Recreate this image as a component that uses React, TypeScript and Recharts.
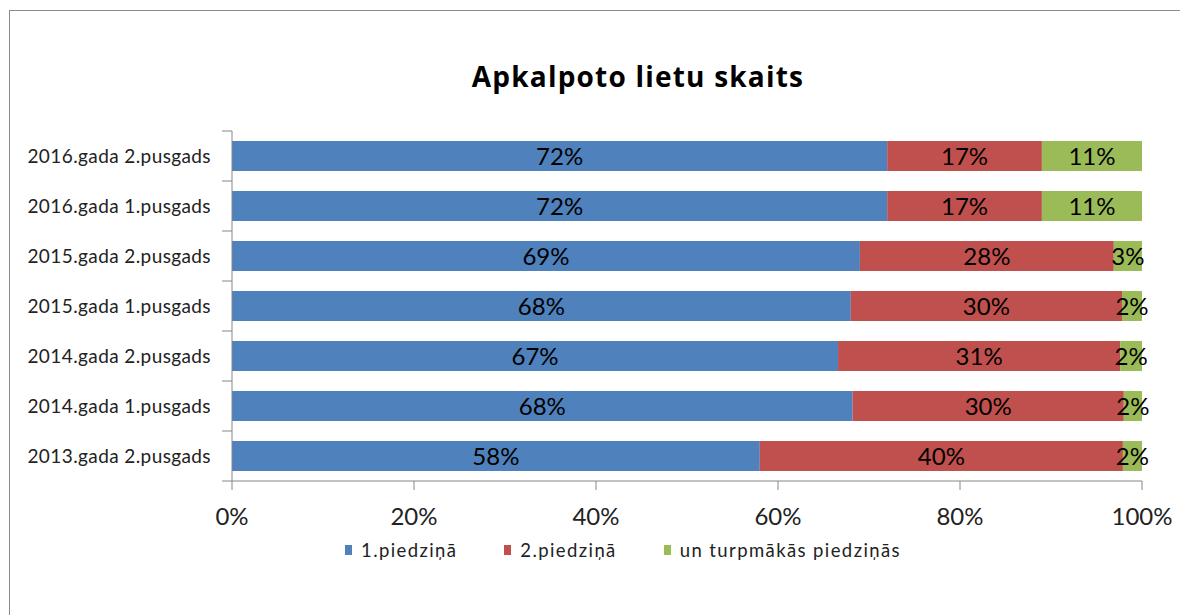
import React from 'react';
import { BarChart, Bar, XAxis, YAxis, Legend, LabelList } from 'recharts';

const categories = [
  '2016.gada 2.pusgads',
  '2016.gada 1.pusgads',
  '2015.gada 2.pusgads',
  '2015.gada 1.pusgads',
  '2014.gada 2.pusgads',
  '2014.gada 1.pusgads',
  '2013.gada 2.pusgads',
];
const first = [72.0, 72.0, 69.0, 68.0, 66.6, 68.2, 58.0];
const second = [17.0, 17.0, 27.9, 29.8, 31.0, 29.8, 39.9];
const further = [11.0, 11.0, 3.1, 2.2, 2.4, 2.0, 2.1];
const xTicks = [0, 20, 40, 60, 80, 100];

const rows = categories.map((name, i) => ({
  name,
  first: first[i],
  second: second[i],
  further: further[i],
}));

const font = 'Lato, "Open Sans", sans-serif';
const axisGray = '#868686';
const CAT_TICK = 10;
const CAT_MARGIN = 11;

const pct = (v: any) => `${Math.round(Number(v))}%`;

// category label + tick marks between the bands (Excel style)
const CategoryTick = (props: any) => {
  const { x, y, payload, index, visibleTicksCount } = props;
  const half = payload.offset || 0;
  const lx1 = x + CAT_MARGIN;
  const lx2 = lx1 + CAT_TICK;
  return (
    <g>
      <line x1={lx1} x2={lx2} y1={y - half} y2={y - half} stroke={axisGray} />
      {index === visibleTicksCount - 1 && (
        <line x1={lx1} x2={lx2} y1={y + half} y2={y + half} stroke={axisGray} />
      )}
      <text
        x={x}
        y={y}
        dy="0.35em"
        textAnchor="end"
        fill="#222"
        fontSize={19}
        fontFamily={font}
        letterSpacing={0.4}
      >
        {payload.value}
      </text>
    </g>
  );
};

const renderLegend = (props: any) => {
  const { payload = [] } = props;
  return (
    <div style={{ display: 'flex', paddingLeft: 345, fontFamily: font, fontSize: 18.5, letterSpacing: 1.4, color: '#222' }}>
      {payload.map((p: any) => (
        <div key={p.value} style={{ display: 'flex', alignItems: 'center', marginRight: 47 }}>
          <span style={{ display: 'inline-block', width: 7, height: 10, background: p.color, marginRight: 9 }} />
          <span>{p.value}</span>
        </div>
      ))}
    </div>
  );
};

export default function App() {
  return (
    <div style={{ position: 'absolute', left: 0, top: 0, width: 1180, height: 615, overflow: 'hidden', background: '#fff' }}>
      <div style={{ position: 'absolute', left: 9, top: 10, width: 1200, height: 640, border: '1px solid #8c8c8c' }} />
      <div
        style={{
          position: 'absolute',
          left: 338,
          top: 57,
          width: 600,
          textAlign: 'center',
          fontFamily: '"Open Sans", sans-serif',
          fontWeight: 'bold',
          fontSize: 28,
          letterSpacing: 1.2,
          color: '#000',
        }}
      >
        Apkalpoto lietu skaits
      </div>
      <div style={{ position: 'absolute', left: 0, top: 0 }}>
        <BarChart
          layout="vertical"
          width={1180}
          height={615}
          data={rows}
          margin={{ top: 131, right: 38, left: 10, bottom: 80 }}
          barSize={30}
        >
          <XAxis
            type="number"
            domain={[0, 100]}
            ticks={xTicks}
            tickFormatter={(v) => `${v}%`}
            tickSize={9}
            tickMargin={18}
            height={30}
            stroke={axisGray}
            tick={{ fill: '#222', fontSize: 24, fontFamily: font }}
          />
          <YAxis
            type="category"
            dataKey="name"
            width={222}
            tickLine={false}
            stroke={axisGray}
            tickSize={CAT_TICK}
            tickMargin={CAT_MARGIN}
            tick={<CategoryTick />}
            interval={0}
          />
          <Legend
            content={renderLegend}
            wrapperStyle={{ top: 539, left: 0, bottom: 'auto', width: 1180, height: 24 }}
          />
          <Bar dataKey="first" name="1.piedziņā" stackId="s" fill="#4F81BD" isAnimationActive={false}>
            <LabelList dataKey="first" position="center" formatter={pct} fill="#000" fontSize={24} fontFamily={font} />
          </Bar>
          <Bar dataKey="second" name="2.piedziņā" stackId="s" fill="#C0504D" isAnimationActive={false}>
            <LabelList dataKey="second" position="center" formatter={pct} fill="#000" fontSize={24} fontFamily={font} />
          </Bar>
          <Bar dataKey="further" name="un turpmākās piedziņās" stackId="s" fill="#9BBB59" isAnimationActive={false}>
            <LabelList dataKey="further" position="center" formatter={pct} fill="#000" fontSize={24} fontFamily={font} />
          </Bar>
        </BarChart>
      </div>
    </div>
  );
}
